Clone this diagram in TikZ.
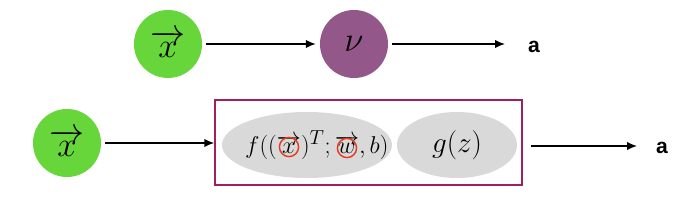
\documentclass[tikz,border=0pt]{standalone}
\usepackage{fontspec}
\usetikzlibrary{shapes.geometric,arrows.meta}
\newfontfamily\labelfont{Liberation Sans}
\definecolor{inputgreen}{HTML}{66D63A}
\definecolor{unitpurple}{HTML}{945789}
\definecolor{boxmagenta}{HTML}{9E1F63}
\definecolor{partgrey}{HTML}{D9D9D9}
\definecolor{markred}{HTML}{E8391E}
\tikzset{
	neuron/.style={circle,minimum size=1.7cm,inner sep=0pt,outer sep=3pt,font=\fontsize{27}{27}\selectfont},
	part/.style={ellipse,fill=partgrey,minimum height=1.65cm,inner sep=0pt},
	flow/.style={-{Latex[length=7pt,width=6pt]},line width=1.1pt},
	outlabel/.style={font=\labelfont\bfseries\fontsize{15}{15}\selectfont},
	ring/.style={circle,draw=markred,line width=1pt,minimum size=0.48cm,inner sep=0pt}
}
\begin{document}
\begin{tikzpicture}[x=0.025cm,y=-0.025cm]
				\useasboundingbox (0,0) rectangle (692,202);
				% neuron as one unit
				\node[neuron,fill=inputgreen] (x1) at (168,44) {$\overrightarrow{x}$};
				\node[neuron,fill=unitpurple] (nu) at (354,44) {$\nu$};
				\coordinate (end1) at (505,44);
				\node[outlabel] (a1) at (534,47) {a};
				\draw[flow] (x1) -- (nu);
				\draw[flow] (nu) -- (end1);
				% neuron split into its two steps
				\node[neuron,fill=inputgreen] (x2) at (67,143) {$\overrightarrow{x}$};
				\node[draw=boxmagenta,line width=1.1pt,minimum width=7.675cm,minimum height=2.125cm] (box) at (368.5,142.5) {};
				\node[part,minimum width=4.25cm,font=\fontsize{19}{19}\selectfont] (f) at (307,145) {\makebox[0pt]{\hspace{14pt}$f((\overrightarrow{x})^T;\overrightarrow{w},b)$}};
				\node[part,minimum width=3.0cm,font=\fontsize{22}{22}\selectfont] (g) at (457,145) {$g(z)$};
				\node[ring] (rx) at (289,147) {};
				\node[ring] (rw) at (347,148) {};
				\coordinate (end2) at (637,146);
				\node[outlabel] (a2) at (662,148) {a};
				\draw[flow] (x2) -- (x2 -| box.west);
				\draw[flow,shorten <=6pt] (box.east |- end2) -- (end2);
\end{tikzpicture}
\end{document}
